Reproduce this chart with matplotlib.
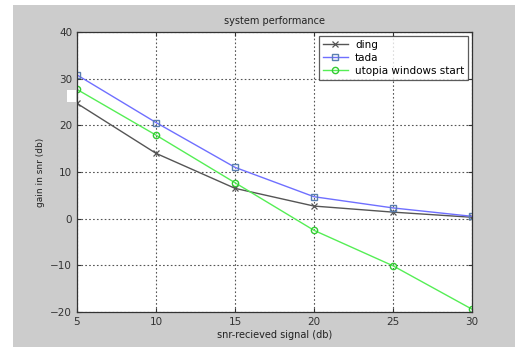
import matplotlib
matplotlib.use("Agg")
import matplotlib.pyplot as plt
from matplotlib.patches import Rectangle

x = [5, 10, 15, 20, 25, 30]
ding = [24.7, 14.0, 6.5, 2.7, 1.4, 0.3]
tada = [30.8, 20.6, 11.0, 4.7, 2.3, 0.5]
utopia = [27.7, 17.9, 7.7, -2.5, -10.1, -19.4]
labels = ["ding", "tada", "utopia windows start"]

fig = plt.figure(figsize=(5.15, 3.47), dpi=100)
fig.patch.set_facecolor("white")
fig.patches.append(Rectangle((13/515, 0), 1 - 13/515, 1 - 5/347, transform=fig.transFigure,
                             facecolor="#cccccc", edgecolor="none", zorder=-10))
fig.patches.append(Rectangle((67/515, 1 - 102/347), 9/515, 12/347, transform=fig.transFigure,
                             facecolor="white", edgecolor="none", zorder=-5))
ax = fig.add_axes([77/515, 1 - 312/347, (472 - 77)/515, (312 - 32)/347])
ax.set_facecolor("white")

ax.plot(x, ding, color="#555555", marker="x", ms=5, mew=0.9, lw=1.0, label=labels[0])
ax.plot(x, tada, color="#6f6fff", marker="s", ms=4.5, mfc="none", mec="#5a7fb0", mew=1.0, lw=1.0, label=labels[1])
ax.plot(x, utopia, color="#55ee55", marker="o", ms=4.5, mfc="none", mec="#33cc33", mew=1.0, lw=1.0, label=labels[2])

ax.set_xlim(5, 30)
ax.set_ylim(-20, 40)
ax.set_xticks([5, 10, 15, 20, 25, 30])
ax.set_yticks([-20, -10, 0, 10, 20, 30, 40])
ax.grid(True, linestyle=(0, (1.5, 2)), color="#555555", lw=0.8)
ax.tick_params(direction="in", top=True, right=True, labelsize=7.5, length=3, color="#333333", labelcolor="#333333")
for s in ax.spines.values():
    s.set_color("#333333")
    s.set_linewidth(0.9)

ax.set_title("system performance", fontsize=7, color="#222222", pad=6)
ax.set_xlabel("snr-recieved signal (db)", fontsize=7, color="#222222", labelpad=2)
ax.set_ylabel("gain in snr (db)", fontsize=6.5, color="#222222", labelpad=4)

leg = ax.legend(loc="upper right", fontsize=7.5, frameon=True, fancybox=False,
                edgecolor="#333333", borderaxespad=0.4, handlelength=2.4,
                borderpad=0.35, labelspacing=0.3, handletextpad=0.7)
leg.get_frame().set_linewidth(0.9)

fig.savefig("out.png", dpi=100)
